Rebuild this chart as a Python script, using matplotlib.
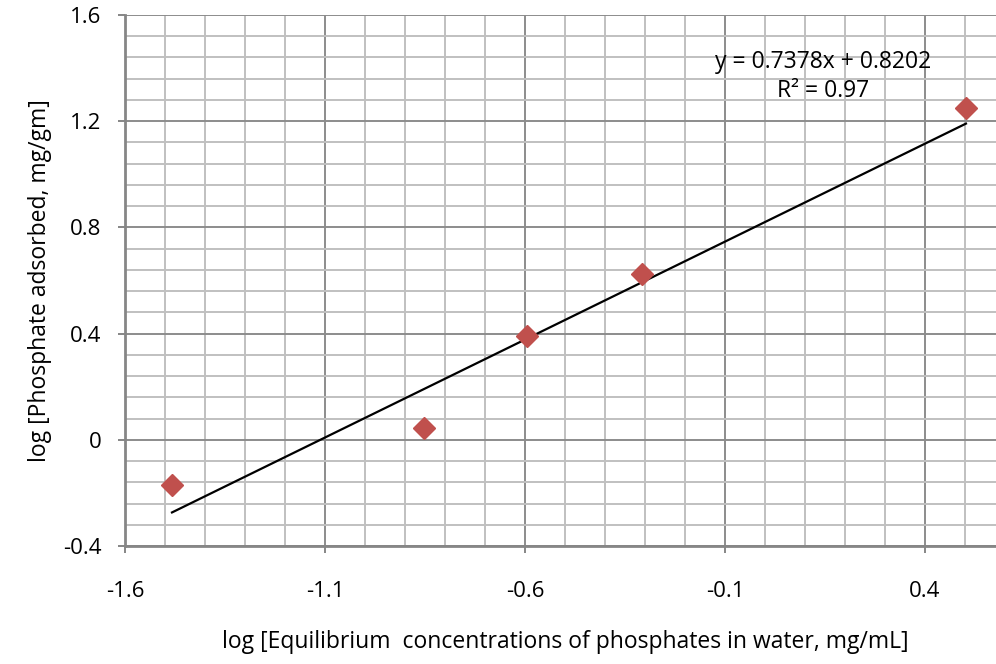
import matplotlib.pyplot as plt
import numpy as np
from matplotlib.ticker import MultipleLocator

plt.rcParams['font.family'] = ['Open Sans', 'DejaVu Sans']

log_conc = np.array([-1.4825, -0.8525, -0.595, -0.3075, 0.5025])
log_ads = np.array([-0.169, 0.045, 0.39, 0.624, 1.25])
slope, intercept = 0.7378, 0.8202

fig = plt.figure(figsize=(9.96, 6.64), dpi=100)
ax = fig.add_axes([0.1255, 0.1777, 0.8835, 0.7997])

ax.set_xlim(-1.6, 0.6)
ax.set_ylim(-0.4, 1.6)
ax.xaxis.set_minor_locator(MultipleLocator(0.1))
ax.yaxis.set_minor_locator(MultipleLocator(0.08))
ax.set_xticks([-1.6, -1.1, -0.6, -0.1, 0.4])
ax.set_xticklabels(['-1.6', '-1.1', '-0.6', '-0.1', '0.4'])
ax.set_yticks([-0.4, 0, 0.4, 0.8, 1.2, 1.6])
ax.set_yticklabels(['-0.4', '0', '0.4', '0.8', '1.2', '1.6'])

ax.grid(which='major', color='#8c8c8c', linewidth=1.4)
ax.grid(which='minor', color='#c0c0c0', linewidth=1.4)
ax.set_axisbelow(True)
for s in ['top', 'right']:
    ax.spines[s].set_visible(False)
ax.spines['left'].set_color('#868686')
ax.spines['bottom'].set_color('#868686')
ax.spines['left'].set_linewidth(2)
ax.spines['bottom'].set_linewidth(2)
ax.tick_params(which='major', length=5, width=1.4, color='#868686', labelsize=16)
ax.tick_params(axis='x', pad=20)
ax.tick_params(axis='y', pad=12)
ax.tick_params(which='minor', length=0)

x_fit = np.array([log_conc.min(), log_conc.max()])
ax.plot(x_fit, slope * x_fit + intercept, color='black', linewidth=1.6, zorder=3)
ax.plot(log_conc, log_ads, linestyle='none', marker='D', markersize=11.5,
        color='#c0504d', zorder=4, clip_on=False)

ax.text(0.145, 1.368, 'y = 0.7378x + 0.8202\nR² = 0.97', ha='center', va='center',
        fontsize=16.5, linespacing=1.3)

ax.set_xlabel('log [Equilibrium  concentrations of phosphates in water, mg/mL]', fontsize=16.5, labelpad=20)
ax.set_ylabel('log [Phosphate adsorbed, mg/gm]', fontsize=16.5, labelpad=8)

fig.savefig('out.png', dpi=100)
